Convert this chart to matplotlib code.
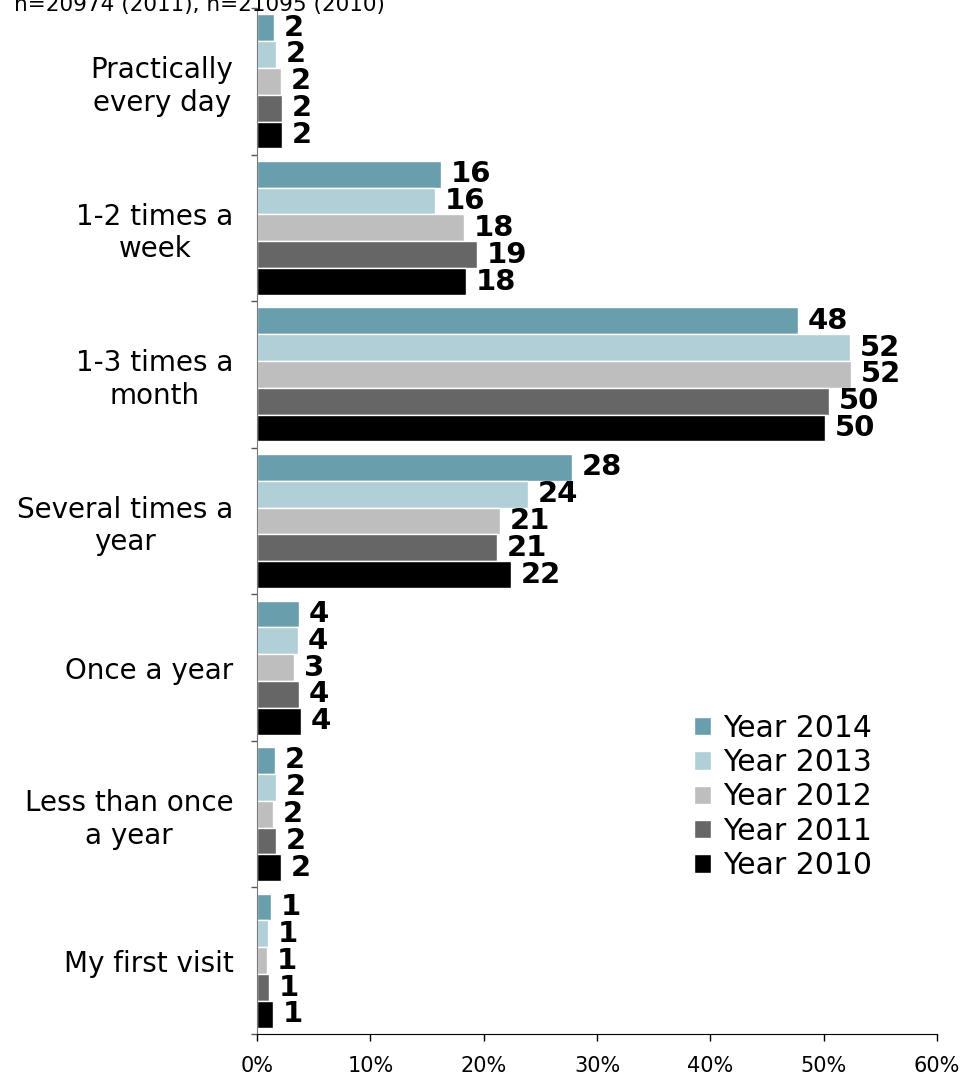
import numpy as np
import matplotlib.pyplot as plt

# Data
categories = ['Practically\nevery day', '1-2 times a\nweek', '1-3 times a\nmonth',
              'Several times a\nyear', 'Once a year', 'Less than once\na year', 'My first visit']
years = ['Year 2014', 'Year 2013', 'Year 2012', 'Year 2011', 'Year 2010']
colors = ['#699FAC', '#B0CFD6', '#BEBEBE', '#666666', '#000000']

y2014 = [1.5, 16.2, 47.7, 27.8, 3.7, 1.6, 1.2]
y2013 = [1.7, 15.7, 52.3, 23.9, 3.6, 1.7, 1.0]
y2012 = [2.1, 18.3, 52.4, 21.4, 3.3, 1.4, 0.9]
y2011 = [2.2, 19.4, 50.5, 21.2, 3.7, 1.7, 1.1]
y2010 = [2.2, 18.4, 50.1, 22.4, 3.9, 2.1, 1.4]

lab2014 = [2, 16, 48, 28, 4, 2, 1]
lab2013 = [2, 16, 52, 24, 4, 2, 1]
lab2012 = [2, 18, 52, 21, 3, 2, 1]
lab2011 = [2, 19, 50, 21, 4, 2, 1]
lab2010 = [2, 18, 50, 22, 4, 2, 1]

series = [y2014, y2013, y2012, y2011, y2010]
labels = [lab2014, lab2013, lab2012, lab2011, lab2010]

fig = plt.figure(figsize=(9.64, 10.78), dpi=100)
ax = fig.add_axes([257 / 964, 1 - 1034 / 1078, 680 / 964, 1026 / 1078])

n_cat = len(categories)
bar_h = 0.183
idx = np.arange(n_cat)

for k, (vals, labs) in enumerate(zip(series, labels)):
    ypos = idx - 2 * bar_h + k * bar_h
    ax.barh(ypos, vals, height=bar_h, color=colors[k], edgecolor='white',
            linewidth=1, label=years[k], zorder=2)
    for y, v, l in zip(ypos, vals, labs):
        ax.annotate(str(l), (v, y), xytext=(7, 0), textcoords='offset points',
                    va='center', ha='left', fontsize=21, fontweight='bold')

ax.set_xlim(0, 60)
ax.set_ylim(n_cat - 0.5, -0.5)

ax.set_xticks(np.arange(0, 61, 10))
ax.set_xticklabels([f'{t}%' for t in range(0, 61, 10)], fontsize=15)
ax.tick_params(axis='x', length=5, width=1, direction='out', pad=11)

ax.set_yticks(np.arange(-0.5, n_cat, 1.0))
ax.set_yticklabels([])
ax.set_yticks(idx, minor=True)
ax.set_yticklabels(categories, minor=True, fontsize=20, ha='right',
                   multialignment='center')
ax.tick_params(axis='y', which='major', length=4.5, width=1, color='#555555')
ax.tick_params(axis='y', which='minor', length=0, pad=17)

for s in ['top', 'right']:
    ax.spines[s].set_visible(False)
ax.spines['left'].set_color('#777777')

ax.legend(loc='lower right', bbox_to_anchor=(0.905, 0.15), frameon=False,
          fontsize=21.5, handlelength=0.57, handleheight=0.57, handletextpad=0.4,
          labelspacing=0.18, borderaxespad=0, borderpad=0)

fig.text(14 / 964, 1 - 11 / 1078, 'n=20974 (2011), n=21095 (2010)', fontsize=15.5,
         va='baseline', ha='left')

fig.savefig('out.png', dpi=100)
